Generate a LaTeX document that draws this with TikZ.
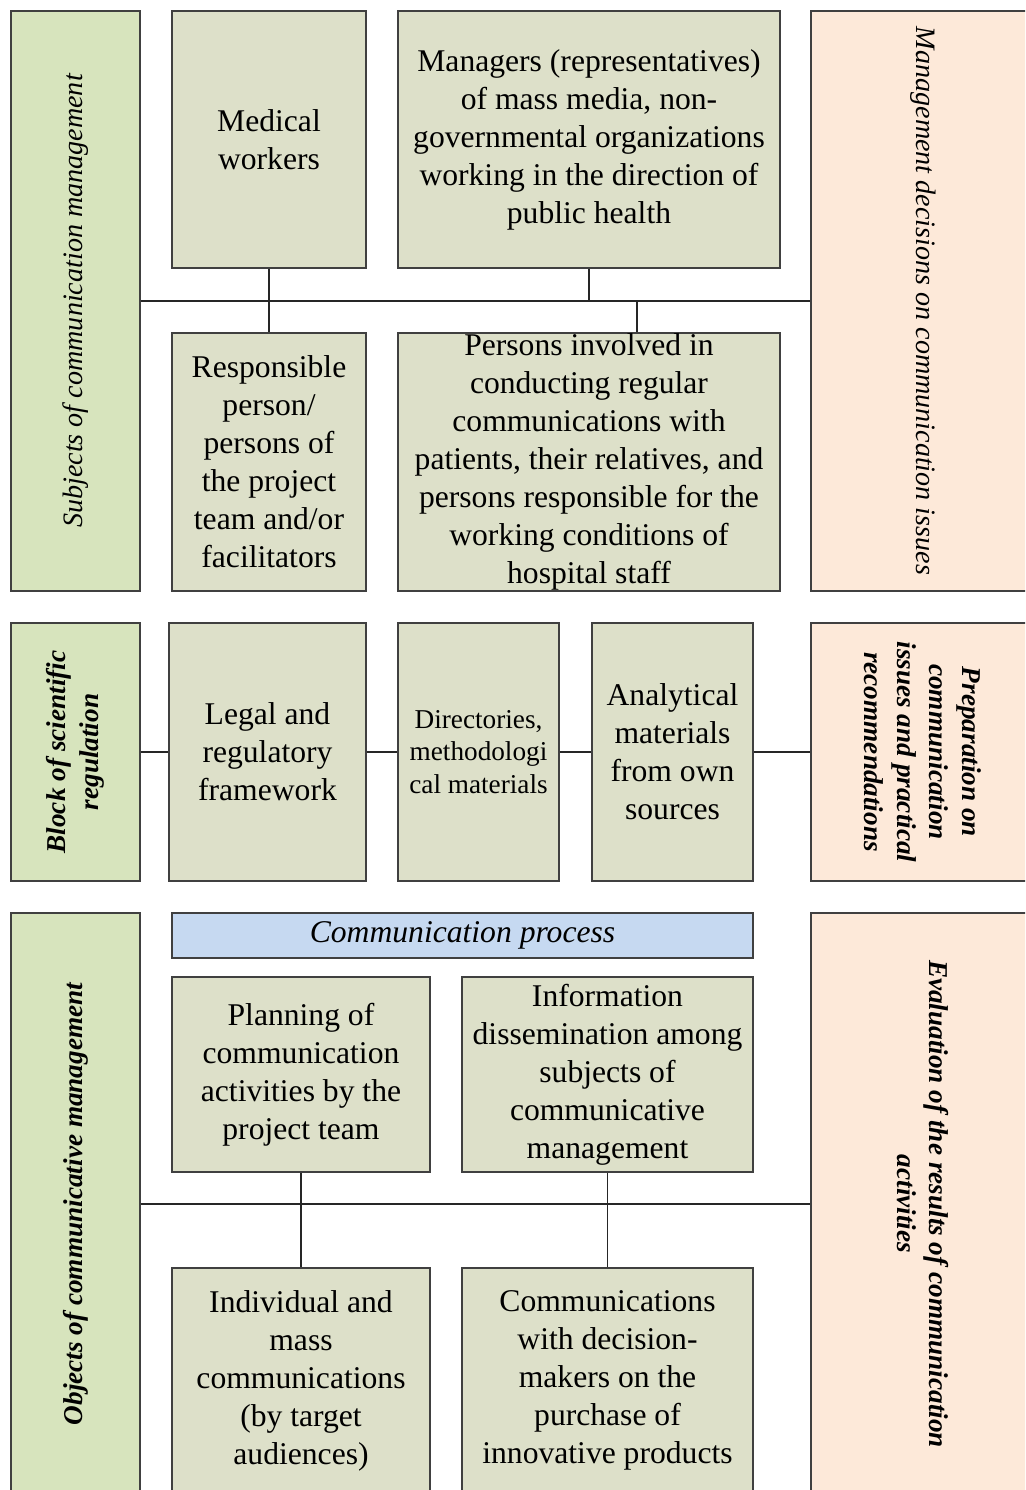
\documentclass[tikz,border=0pt]{standalone}
\usepackage{fontspec}
\setmainfont{Liberation Serif}
\usepackage{tikz}
\definecolor{sidegreen}{HTML}{D7E4BD}
\definecolor{boxgreen}{HTML}{DDE0C9}
\definecolor{sidepeach}{HTML}{FDE9D9}
\definecolor{barblue}{HTML}{C6D9F1}
\newcommand\boxfont{\fontsize{18}{21.6}\selectfont}
\newcommand\smallboxfont{\fontsize{15.5}{18.7}\selectfont}
\newcommand\sidefont{\fontsize{16}{19}\selectfont\itshape}
\newcommand\sideboldfont{\fontsize{15.5}{18.5}\selectfont\bfseries\itshape}

\begin{document}
\begin{tikzpicture}[x=0.02cm, y=-0.02cm,
    box/.style = {draw=black!75, line width=0.9pt, fill=boxgreen, align=center, inner sep=0pt, font=\boxfont},
    sidebase/.style = {draw=black!75, line width=0.9pt, align=center, inner sep=0pt, font=\sidefont},
    side/.style = {sidebase, fill=sidegreen, rotate=90, minimum height=2.58cm},
    outcome/.style = {sidebase, fill=sidepeach, rotate=-90, minimum height=4.48cm},
    link/.style = {draw=black!85, line width=0.7pt}]
  \clip (0,0) rectangle (1025,1490);

  \node[side, minimum width=11.6cm] (subj) at (75.5,301) {Subjects of communication management};
  \node[outcome, minimum width=11.6cm] (mgmt) at (923,301) {Management decisions on communication issues};
  \node[box, minimum width=3.88cm, minimum height=5.14cm] (med) at (269,139.5) {Medical\\workers};
  \node[box, minimum width=7.64cm, minimum height=5.14cm] (mgr) at (589,139.5)
    {Managers (representatives)\\of mass media, non-\\governmental organizations\\working in the direction of\\public health};
  \node[box, minimum width=3.88cm, minimum height=5.16cm] (resp) at (269,462)
    {Responsible\\person/\\persons of\\the project\\team and/or\\facilitators};
  \node[box, minimum width=7.64cm, minimum height=5.16cm] (pers) at (589,462)
    {Persons involved in\\conducting regular\\communications with\\patients, their relatives, and\\persons responsible for the\\working conditions of\\hospital staff};
  \coordinate (tap) at (637,301);

  \node[side, font=\sideboldfont, minimum width=5.16cm] (block) at (75.5,752) {Block of scientific\\regulation};
  \node[box, minimum width=3.94cm, minimum height=5.16cm] (legal) at (267.5,752) {Legal and\\regulatory\\framework};
  \node[box, font=\smallboxfont, minimum width=3.22cm, minimum height=5.16cm] (dir) at (478.5,752) {Directories,\\methodologi\\cal materials};
  \node[box, minimum width=3.22cm, minimum height=5.16cm] (anl) at (672.5,752) {Analytical\\materials\\from own\\sources};
  \node[outcome, font=\sideboldfont, minimum width=5.16cm] (prep) at (923,752)
    {Preparation on\\communication\\issues and practical\\recommendations};

  \node[side, font=\sideboldfont, minimum width=11.64cm] (obj) at (75.5,1204) {Objects of communicative management};
  \node[box, fill=barblue, font=\boxfont\itshape, minimum width=11.62cm, minimum height=0.9cm] (proc) at (462.5,935.5) {Communication process};
  \node[box, minimum width=5.16cm, minimum height=3.9cm] (plan) at (301,1074.5)
    {Planning of\\communication\\activities by the\\project team};
  \node[box, minimum width=5.82cm, minimum height=3.9cm] (info) at (607.5,1074.5)
    {Information\\dissemination among\\subjects of\\communicative\\management};
  \node[box, minimum width=5.16cm, minimum height=4.5cm] (indiv) at (301,1380.5)
    {Individual and\\mass\\communications\\(by target\\audiences)};
  \node[box, minimum width=5.82cm, minimum height=4.5cm] (comm) at (607.5,1380.5)
    {Communications\\with decision-\\makers on the\\purchase of\\innovative products};
  \node[outcome, font=\sideboldfont, minimum width=11.64cm] (eval) at (923,1204)
    {Evaluation of the results of communication\\activities};

  \draw[link] (subj.south) -- (mgmt.south);
  \draw[link] (med.south) -- (resp.north);
  \draw[link] (mgr.south) -- (mgr.south |- subj.south);
  \draw[link] (tap) -- (tap |- pers.north);
  \draw[link] (block.south) -- (legal.west) (legal.east) -- (dir.west)
    (dir.east) -- (anl.west) (anl.east) -- (prep.south);
  \draw[link] (obj.south) -- (eval.south);
  \draw[link] (plan.south) -- (indiv.north);
  \draw[link] (info.south) -- (comm.north);
\end{tikzpicture}
\end{document}
